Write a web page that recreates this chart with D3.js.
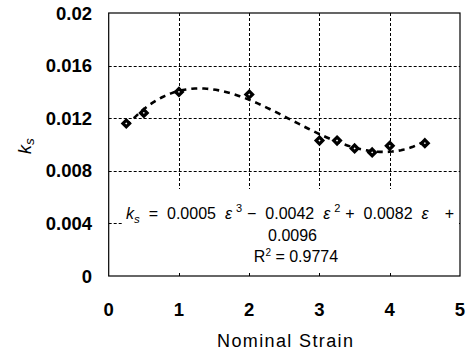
<!DOCTYPE html>
<html>
<head>
<meta charset="utf-8">
<script src="https://cdn.jsdelivr.net/npm/d3@7"></script>
<style>
  html, body { margin: 0; padding: 0; background: #fff; }
  svg { display: block; }
  text { font-family: "Liberation Sans", Arial, sans-serif; fill: #000; }
</style>
</head>
<body>
<svg id="chart" width="470" height="354"></svg>
<script>
// Nominal strain vs. k_s measurements
const strain = [0.25, 0.5, 1, 2, 3, 3.25, 3.5, 3.75, 4, 4.5];
const ks = [0.0116, 0.0124, 0.0140, 0.0138, 0.0103, 0.0103, 0.0097, 0.0094, 0.0099, 0.0101];

const xTicks = [0, 1, 2, 3, 4, 5];
const yTicks = [0, 0.004, 0.008, 0.012, 0.016, 0.02];
const yTickLabels = ["0", "0.004", "0.008", "0.012", "0.016", "0.02"];

const svg = d3.select("#chart");
const m = { left: 108.7, right: 460, top: 13, bottom: 276 };

const x = d3.scaleLinear().domain([0, 5]).range([m.left, m.right]);
const y = d3.scaleLinear().domain([0, 0.02]).range([m.bottom, m.top]);

// Least-squares cubic trendline fitted to the measurements
function polyfit(xs, ys, deg) {
  const n = deg + 1;
  const A = Array.from({ length: n }, () => new Array(n + 1).fill(0));
  for (let i = 0; i < xs.length; i++) {
    for (let r = 0; r < n; r++) {
      for (let c = 0; c < n; c++) A[r][c] += Math.pow(xs[i], r + c);
      A[r][n] += ys[i] * Math.pow(xs[i], r);
    }
  }
  for (let p = 0; p < n; p++) {
    let best = p;
    for (let r = p + 1; r < n; r++) if (Math.abs(A[r][p]) > Math.abs(A[best][p])) best = r;
    [A[p], A[best]] = [A[best], A[p]];
    for (let r = 0; r < n; r++) {
      if (r === p) continue;
      const f = A[r][p] / A[p][p];
      for (let c = p; c <= n; c++) A[r][c] -= f * A[p][c];
    }
  }
  return A.map((row, i) => row[n] / row[i]);
}
const coef = polyfit(strain, ks, 3);
const fit = v => coef.reduce((s, c, i) => s + c * Math.pow(v, i), 0);
const x0 = d3.min(strain), x1 = d3.max(strain);
const curve = d3.range(0, 101).map(i => { const v = x0 + (x1 - x0) * i / 100; return [v, fit(v)]; });

// Dashed gridlines
const grid = svg.append("g").attr("stroke", "#000").attr("stroke-width", 1).attr("stroke-dasharray", "3,2");
grid.selectAll("line.h").data(yTicks.filter(d => d > 0 && d < 0.02)).join("line")
  .attr("x1", m.left).attr("x2", m.right)
  .attr("y1", d => Math.round(y(d)) + 0.5).attr("y2", d => Math.round(y(d)) + 0.5);
grid.selectAll("line.v").data(xTicks.filter(d => d > 0 && d < 5)).join("line")
  .attr("y1", m.top).attr("y2", m.bottom)
  .attr("x1", d => Math.round(x(d)) + 0.5).attr("x2", d => Math.round(x(d)) + 0.5);

// Plot frame
svg.append("rect")
  .attr("x", m.left).attr("y", m.top)
  .attr("width", m.right - m.left).attr("height", m.bottom - m.top)
  .attr("fill", "none").attr("stroke", "#000").attr("stroke-width", 1.2);

// Trendline
svg.append("path")
  .datum(curve)
  .attr("fill", "none").attr("stroke", "#000").attr("stroke-width", 2.6)
  .attr("stroke-dasharray", "6,5")
  .attr("d", d3.line().x(d => x(d[0])).y(d => y(d[1])));

// Markers: heavy diamonds with a small open centre
svg.append("g").selectAll("path")
  .data(strain.map((s, i) => [s, ks[i]]))
  .join("path")
  .attr("transform", d => `translate(${x(d[0])},${y(d[1])})`)
  .attr("d", d3.symbol(d3.symbolDiamond2, 28)())
  .attr("fill", "#fff").attr("stroke", "#000").attr("stroke-width", 3.2);

// Equation box
svg.append("rect")
  .attr("x", 123).attr("y", 189).attr("width", 336).attr("height", 82)
  .attr("fill", "#fff");

// Trendline equation: pieces spread across the line between eqLeft and eqRight
const eqFont = 16;
const eqLeft = 126, eqRight = 454, eqBase = 219;
const eqPieces = [
  [["k", "it"], ["s", "sub"]],
  [["=", ""]],
  [["0.0005", ""]],
  [["ε", "it"], ["3", "sup"]],
  [["−", ""]],
  [["0.0042", ""]],
  [["ε", "it"], ["2", "sup"]],
  [["+", ""]],
  [["0.0082", ""]],
  [["ε", "it"]],
  [["+", ""]]
];
const gapWeights = [1, 1, 1, 1, 1, 1, 1, 1, 1, 1.8];
const eqG = svg.append("g");
const eqNodes = eqPieces.map(parts => {
  const t = eqG.append("text").attr("y", eqBase).attr("font-size", eqFont);
  parts.forEach(([s, kind]) => {
    const sp = t.append("tspan").text(s);
    if (kind === "it") sp.attr("font-style", "italic");
    if (kind === "sub") sp.attr("font-style", "italic").attr("font-size", 11.5).attr("dy", 4);
    if (kind === "sup") sp.attr("font-size", 11).attr("dy", -7).attr("dx", 4);
  });
  return t;
});
const widths = eqNodes.map(t => t.node().getComputedTextLength());
const extra = (eqRight - eqLeft) - d3.sum(widths);
const unit = extra / d3.sum(gapWeights);
let cx = eqLeft;
eqNodes.forEach((t, i) => {
  t.attr("x", cx);
  cx += widths[i] + (i < gapWeights.length ? gapWeights[i] * unit : 0);
});

svg.append("text").attr("x", 292.5).attr("y", 241).attr("text-anchor", "middle")
  .attr("font-size", eqFont).text("0.0096");

const r2 = svg.append("text").attr("x", 296).attr("y", 262)
  .attr("text-anchor", "middle").attr("font-size", eqFont);
r2.append("tspan").text("R");
r2.append("tspan").attr("font-size", 10).attr("dy", -6).text("2");
r2.append("tspan").attr("dy", 6).text(" = 0.9774");

// Axis tick labels
svg.append("g").selectAll("text")
  .data(yTicks).join("text")
  .attr("x", 92).attr("y", d => y(d)).attr("dy", "0.36em")
  .attr("text-anchor", "end").attr("font-size", 18.5).attr("font-weight", "bold")
  .text((d, i) => yTickLabels[i]);

svg.append("g").selectAll("text")
  .data(xTicks).join("text")
  .attr("x", d => x(d)).attr("y", 309).attr("dy", "0.36em")
  .attr("text-anchor", "middle").attr("font-size", 18.5).attr("font-weight", "bold")
  .text(d => d);

// Axis titles
svg.append("text").attr("x", 285).attr("y", 347)
  .attr("text-anchor", "middle").attr("font-size", 18)
  .attr("textLength", 136).attr("lengthAdjust", "spacing")
  .text("Nominal Strain");

const yl = svg.append("text")
  .attr("transform", "translate(31,146) rotate(-90)")
  .attr("text-anchor", "middle").attr("font-size", 18).attr("font-style", "italic");
yl.append("tspan").text("k");
yl.append("tspan").attr("font-size", 13.5).attr("dy", 3).text("s");
</script>
</body>
</html>
